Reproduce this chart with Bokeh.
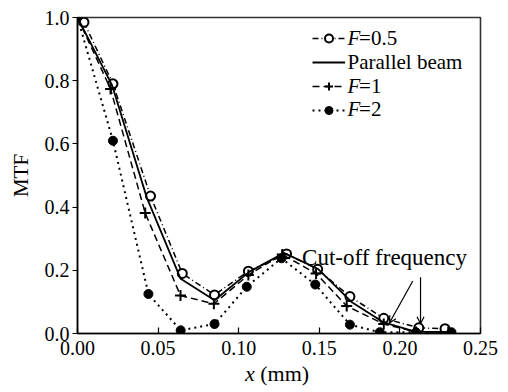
from bokeh.plotting import figure
from bokeh.models import (Range1d, FixedTicker, NumeralTickFormatter, Legend, LegendItem,
                          Label, Arrow, OpenHead, Div)
from bokeh.layouts import column
from bokeh.core.properties import value
from bokeh.embed import file_html
from bokeh.resources import INLINE

# ---- data ----
x_f05 = [0.004, 0.022, 0.0453, 0.065, 0.085, 0.106, 0.1297, 0.149, 0.169, 0.190, 0.2117, 0.228]
y_f05 = [0.985, 0.790, 0.435, 0.190, 0.122, 0.197, 0.252, 0.203, 0.117, 0.048, 0.018, 0.015]

x_par = [0.0, 0.0215, 0.043, 0.064, 0.085, 0.1065, 0.128, 0.149, 0.170, 0.190, 0.210, 0.232]
y_par = [1.0, 0.785, 0.430, 0.173, 0.105, 0.195, 0.255, 0.205, 0.100, 0.035, 0.005, 0.005]

x_f1 = [0.0, 0.0205, 0.042, 0.0639, 0.0846, 0.106, 0.127, 0.148, 0.167, 0.190, 0.210, 0.230]
y_f1 = [1.0, 0.774, 0.381, 0.120, 0.094, 0.185, 0.250, 0.190, 0.087, 0.030, 0.005, 0.005]

x_f2 = [0.0, 0.022, 0.044, 0.064, 0.085, 0.105, 0.1265, 0.1475, 0.169, 0.1875, 0.210, 0.232]
y_f2 = [1.0, 0.610, 0.125, 0.010, 0.030, 0.148, 0.238, 0.155, 0.028, 0.004, 0.004, 0.004]

x_ticks = [0.0, 0.05, 0.10, 0.15, 0.20, 0.25]
y_ticks = [0.0, 0.2, 0.4, 0.6, 0.8, 1.0]

legend_names = [("F", "=0.5"), ("", "Parallel beam"), ("F", "=1"), ("F", "=2")]
annot_text = "Cut-off frequency"
arrow_starts = [(0.208, 0.166), (0.2128, 0.178)]
arrow_ends = [(0.1935, 0.033), (0.2128, 0.031)]

FONT = "Liberation Serif"

p = figure(width=508, height=372, output_backend="svg", toolbar_location=None,
           x_range=Range1d(0, 0.25), y_range=Range1d(0, 1.0))
p.min_border_left = 77
p.min_border_right = 28
p.min_border_top = 17
p.min_border_bottom = 39
p.background_fill_color = "white"
p.border_fill_color = "white"
p.outline_line_color = "#333333"
p.outline_line_width = 1.6
p.xgrid.visible = False
p.ygrid.visible = False

# axes
p.xaxis.ticker = FixedTicker(ticks=x_ticks)
p.yaxis.ticker = FixedTicker(ticks=y_ticks)
p.xaxis.formatter = NumeralTickFormatter(format="0.00")
p.yaxis.formatter = NumeralTickFormatter(format="0.0")
for ax in (p.xaxis, p.yaxis):
    ax.axis_line_color = "black"
    ax.axis_line_width = 1.5
    ax.major_tick_line_color = "black"
    ax.major_tick_line_width = 1.2
    ax.minor_tick_line_color = None
    ax.major_label_text_font = FONT
    ax.major_label_text_font_size = "20px"
    ax.major_label_text_color = "black"
    ax.major_label_text_font_style = "normal"
p.xaxis.major_tick_in = 6
p.xaxis.major_tick_out = 0
p.xaxis.major_label_standoff = 7
p.yaxis.major_tick_in = 0
p.yaxis.major_tick_out = 5
p.yaxis.major_label_standoff = 3
p.yaxis.axis_label = "MTF"
p.yaxis.axis_label_text_font = FONT
p.yaxis.axis_label_text_font_size = "21px"
p.yaxis.axis_label_text_font_style = "normal"
p.yaxis.axis_label_text_color = "black"
p.yaxis.axis_label_standoff = 9

# series
l05 = p.line(x_f05, y_f05, line_color="black", line_width=1.5, line_dash="6 3 1 3")
s05 = p.scatter(x_f05, y_f05, marker="circle", size=9, fill_color="white",
                line_color="black", line_width=2)
lpar = p.line(x_par, y_par, line_color="black", line_width=1.8)
l1 = p.line(x_f1, y_f1, line_color="black", line_width=1.5, line_dash="7 4")
s1 = p.scatter(x_f1, y_f1, marker="cross", size=11, line_color="black", line_width=2)
l2 = p.line(x_f2, y_f2, line_color="black", line_width=2, line_dash="2 4")
s2 = p.scatter(x_f2, y_f2, marker="circle", size=9, fill_color="black", line_color="black")

# legend (glyph samples), text overlaid with labels
items = [LegendItem(label=value(""), renderers=[l05, s05]),
         LegendItem(label=value(""), renderers=[lpar]),
         LegendItem(label=value(""), renderers=[l1, s1]),
         LegendItem(label=value(""), renderers=[l2, s2])]
leg = Legend(items=items, location=(235, 213), orientation="vertical",
             glyph_width=33, glyph_height=20, label_height=20, label_width=0,
             spacing=4, padding=0, margin=0, label_standoff=0,
             border_line_color=None, background_fill_alpha=0)
p.add_layout(leg, "center")

row_y = [0.934, 0.858, 0.782, 0.710]
for (it, rest), yy in zip(legend_names, row_y):
    x0 = 0.1675
    if it:
        p.add_layout(Label(x=x0, y=yy, text=it, text_font=FONT, text_font_size="21px",
                           text_font_style="italic", text_baseline="middle",
                           text_align="left", text_color="black"))
        x0 += 0.0072
    p.add_layout(Label(x=x0, y=yy, text=rest, text_font=FONT, text_font_size="21px",
                       text_baseline="middle", text_align="left", text_color="black"))

# cut-off annotation
p.add_layout(Label(x=0.1393, y=0.24, text=annot_text, text_font=FONT, text_font_size="23px",
                   text_baseline="alphabetic", text_align="left", text_color="black"))
for (xs, ys), (xe, ye) in zip(arrow_starts, arrow_ends):
    p.add_layout(Arrow(x_start=xs, y_start=ys, x_end=xe, y_end=ye, line_color="black",
                       line_width=1.2, end=OpenHead(size=7, line_color="black", line_width=1.2)))

# x axis label below the chart: italic x + (mm)
xlabel = Div(
    text=('<div style="position:relative;width:508px;height:20px;">'
          '<span style="position:absolute;left:245px;top:-9px;font-family:\'Liberation Serif\',serif;'
          'font-size:22px;line-height:22px;white-space:nowrap;color:black;">'
          '<i>x</i> (mm)</span></div>'),
    width=508, height=20, margin=(0, 0, 0, 0))

layout = column(p, xlabel, spacing=0)
open("out.html", "w").write(file_html(layout, INLINE))
